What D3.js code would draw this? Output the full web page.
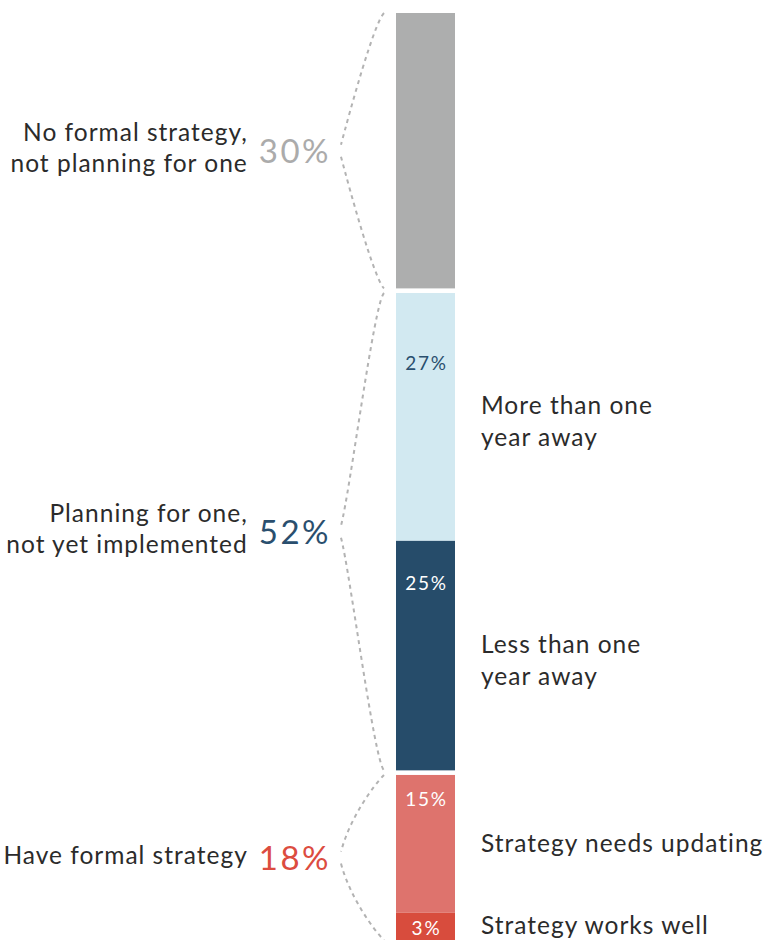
<!DOCTYPE html>
<html>
<head>
<meta charset="utf-8">
<script src="https://cdn.jsdelivr.net/npm/d3@7"></script>
<style>
  html, body { margin: 0; padding: 0; background: #ffffff; }
  svg { display: block; }
  text { font-family: Lato, "Open Sans", sans-serif; }
</style>
</head>
<body>
<svg id="chart" width="766" height="940"></svg>
<script>
// Survey groups (left side)
const groupLabels = [
  ["No formal strategy,", "not planning for one"],
  ["Planning for one,", "not yet implemented"],
  ["Have formal strategy"]
];
const groupValues = [30, 52, 18];
const groupColors = ["#ababab", "#2a4f6e", "#dc4c3f"];

// Breakdown of each group (stacked bar segments)
const segmentGroup  = [0, 1, 1, 2, 2];
const segmentValues = [30, 27, 25, 15, 3];
const segmentLabels = [
  [],
  ["More than one", "year away"],
  ["Less than one", "year away"],
  ["Strategy needs updating"],
  ["Strategy works well"]
];
const segmentColors     = ["#adaeae", "#d2e9f1", "#264c6a", "#de736d", "#d84c3d"];
const segmentTextColors = [null, "#2a4f6e", "#ffffff", "#ffffff", "#ffffff"];

// Layout
const barX = 396, barW = 59, barTop = 13, groupGap = 4.6;
const valueLabelDy = [0, 77, 49, 31, 22];   // baseline offset of the in-bar value from segment top
const svg = d3.select("#chart");

const y = d3.scaleLinear().domain([0, 100]).range([0, 918]);

// cumulative stack
let cum = 0;
const segs = segmentValues.map((v, i) => {
  const start = cum;
  cum += v;
  const top = barTop + y(start) + segmentGroup[i] * groupGap;
  const bottom = barTop + y(cum) + segmentGroup[i] * groupGap;
  return { i, v, top, bottom, group: segmentGroup[i] };
});

// group extents
const groups = groupValues.map((v, g) => {
  const s = segs.filter(d => d.group === g);
  return { g, v, top: d3.min(s, d => d.top), bottom: d3.max(s, d => d.bottom) };
});

// bar segments
svg.selectAll("rect.seg").data(segs).join("rect")
  .attr("class", "seg")
  .attr("x", barX).attr("width", barW)
  .attr("y", d => d.top)
  .attr("height", d => d.bottom - d.top)
  .attr("fill", d => segmentColors[d.i]);

// in-bar values
svg.selectAll("text.segval").data(segs.filter(d => segmentTextColors[d.i])).join("text")
  .attr("class", "segval")
  .attr("x", barX + barW / 2 + 1)
  .attr("y", d => d.top + valueLabelDy[d.i])
  .attr("text-anchor", "middle")
  .attr("font-size", 19)
  .attr("letter-spacing", 1.8)
  .attr("fill", d => segmentTextColors[d.i])
  .text(d => d.v + "%");

// right-side segment labels
const lineH = 32;
segs.forEach(d => {
  const lines = segmentLabels[d.i];
  if (!lines.length) return;
  const mid = (d.top + d.bottom) / 2;
  const shift = lines.length > 1 ? 13 : 8;
  const t = svg.append("text")
    .attr("x", 481)
    .attr("font-size", 24.5)
    .attr("letter-spacing", 1)
    .attr("fill", "#2b2b2b");
  lines.forEach((ln, k) => {
    t.append("tspan")
      .attr("x", 481)
      .attr("y", mid + shift + (k - (lines.length - 1) / 2) * lineH)
      .text(ln);
  });
});

// curly dotted braces
const tipX = 341, endX = 384, tipGap = 6;
groups.forEach(gr => {
  const mid = (gr.top + gr.bottom) / 2;
  const p = d3.path();
  p.moveTo(endX, gr.top);
  p.bezierCurveTo(374, gr.top + 10, 350, mid - 40, tipX, mid - tipGap);
  p.moveTo(tipX, mid + tipGap);
  p.bezierCurveTo(350, mid + 40, 374, gr.bottom - 10, endX, gr.bottom);
  svg.append("path")
    .attr("d", p.toString())
    .attr("fill", "none")
    .attr("stroke", "#b3b3b3")
    .attr("stroke-width", 2)
    .attr("stroke-dasharray", "4,4");
});

// left group values and labels
groups.forEach(gr => {
  const mid = (gr.top + gr.bottom) / 2;
  const pct = svg.append("text")
    .attr("x", 331)
    .attr("y", mid + 12)
    .attr("text-anchor", "end")
    .attr("font-size", 33)
    .attr("font-weight", 400)
    .attr("letter-spacing", 2.5)
    .attr("fill", groupColors[gr.g])
    .text(gr.v + "%");
  const pw = pct.node().getComputedTextLength();
  const lines = groupLabels[gr.g];
  const tx = 331 - pw - 11;
  const t = svg.append("text")
    .attr("text-anchor", "end")
    .attr("font-size", 24.5)
    .attr("letter-spacing", 1)
    .attr("fill", "#2b2b2b");
  lines.forEach((ln, k) => {
    t.append("tspan")
      .attr("x", tx)
      .attr("y", mid + 6 + (k - (lines.length - 1) / 2) * 31)
      .text(ln);
  });
});
</script>
</body>
</html>
